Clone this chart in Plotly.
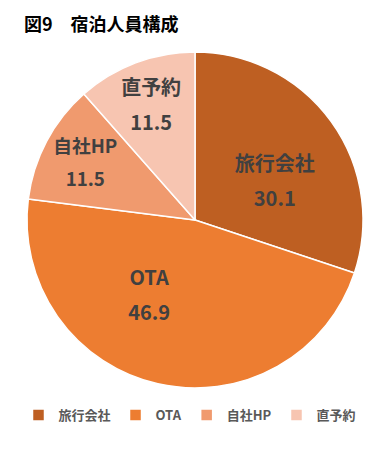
import plotly.graph_objects as go

categories = ["旅行会社", "OTA", "自社HP", "直予約"]
values = [30.1, 46.9, 11.5, 11.5]
colors = ["#BE5F22", "#ED7D31", "#F09A6E", "#F7C5B1"]
title_text = "図9　宿泊人員構成"

# label styling tweaks (blank lines before/after, left/right padding in spaces)
lead_lines = [2, 0, 0, 0]
trail_lines = [0, 1, 0, 0]
left_pad = [2, 0, 0, 0]
right_pad = [0, 12, 0, 0]

W, H = 392, 449
off = 8  # page body margin compensation
cx, cy, r = 195 - off, 220 - off, 168


def make_template(lead, trail, lpad, rpad):
    lp = "\u00a0" * lpad
    rp = "\u00a0" * rpad
    t = " <br>" * lead
    t += "<span style='font-size:20px'>" + lp + "%{label}" + rp + "</span><br> <br>"
    t += "<span style='font-size:20px'>" + lp + "%{value:.1f}" + rp + "</span>"
    t += "<br> " * trail
    return t


templates = [make_template(*p) for p in zip(lead_lines, trail_lines, left_pad, right_pad)]

fig = go.Figure(go.Pie(
    labels=categories,
    values=values,
    sort=False,
    direction="clockwise",
    rotation=0,
    marker=dict(colors=colors, line=dict(color="white", width=1.5)),
    texttemplate=templates,
    textposition="inside",
    insidetextorientation="horizontal",
    textfont=dict(family="Noto Sans CJK JP", size=13.5, color="#404040", weight="bold"),
    domain=dict(x=[(cx - r) / W, (cx + r) / W], y=[(H - cy - r) / H, (H - cy + r) / H]),
    hoverinfo="label+value",
))

fig.update_layout(
    width=W, height=H,
    margin=dict(l=0, r=0, t=0, b=0, autoexpand=False),
    paper_bgcolor="white",
    showlegend=True,
    legend=dict(orientation="h", x=182 / W, xanchor="center", y=(H - 407) / H, yanchor="middle",
                font=dict(family="Noto Sans CJK JP", size=13, color="#595959", weight="bold"),
                itemwidth=30, traceorder="normal"),
    annotations=[dict(text=title_text, x=14 / W, y=1, xref="paper", yref="paper",
                      xanchor="left", yanchor="top", showarrow=False,
                      font=dict(family="Noto Sans CJK JP", size=18, color="#000000", weight="bold"))],
)

fig.write_html("out.html")
